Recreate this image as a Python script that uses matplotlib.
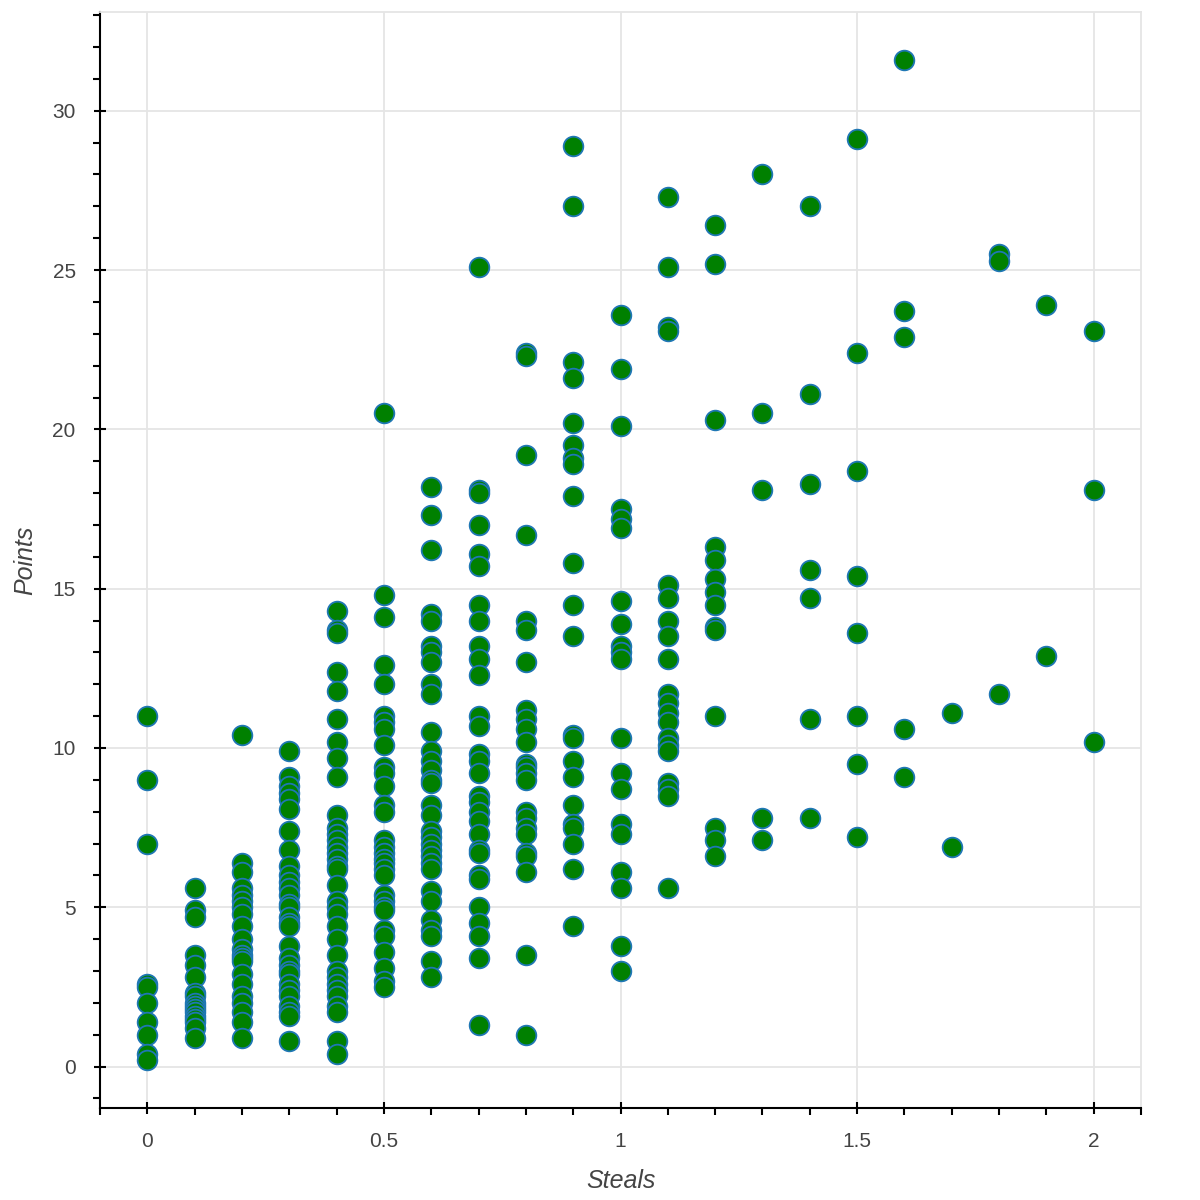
import matplotlib
matplotlib.use("Agg")
import matplotlib.pyplot as plt
from matplotlib.ticker import MultipleLocator, FuncFormatter

plt.rcParams["font.family"] = ["Liberation Sans", "DejaVu Sans"]

# steals per game -> points per game
steals_0_0 = [11.0, 9.0, 7.0, 2.6, 2.5, 2.0, 1.4, 1.0, 0.4, 0.2]
steals_0_1 = [5.6, 4.9, 4.7, 3.5, 3.2, 2.8, 2.3, 2.2, 2.0, 1.9, 1.8, 1.7, 1.6, 1.5, 1.4, 1.2, 0.9]
steals_0_2 = [10.4, 6.4, 6.1, 5.6, 5.4, 5.2, 5.0, 4.8, 4.4, 4.0, 3.7, 3.5, 3.4, 3.3, 2.9, 2.6,
              2.2, 2.0, 1.7, 1.4, 0.9]
steals_0_3 = [9.9, 9.1, 8.8, 8.6, 8.4, 8.1, 7.4, 6.8, 6.3, 6.0, 5.8, 5.6, 5.4, 5.1, 5.0, 4.7,
              4.5, 4.4, 3.8, 3.4, 3.2, 3.0, 2.9, 2.6, 2.4, 2.2, 1.9, 1.7, 1.6, 0.8]
steals_0_4 = [14.3, 13.7, 13.6, 12.4, 11.8, 10.9, 10.2, 9.7, 9.1, 7.9, 7.5, 7.3, 7.1, 6.9, 6.7,
              6.5, 6.3, 6.2, 5.7, 5.2, 5.0, 4.8, 4.4, 4.0, 3.5, 3.0, 2.8, 2.6, 2.4, 2.2, 1.9,
              1.7, 0.8, 0.4]
steals_0_5 = [20.5, 14.8, 14.1, 12.6, 12.0, 11.0, 10.8, 10.6, 10.1, 9.4, 9.2, 8.8, 8.2, 8.0, 7.1,
              6.9, 6.7, 6.5, 6.4, 6.2, 6.0, 5.4, 5.2, 5.0, 4.9, 4.3, 4.1, 3.6, 3.1, 2.7, 2.5]
steals_0_6 = [18.2, 17.3, 16.2, 14.2, 14.0, 13.2, 13.0, 12.7, 12.0, 11.7, 10.5, 9.9, 9.6, 9.3,
              9.0, 8.9, 8.2, 7.9, 7.4, 7.2, 7.0, 6.8, 6.6, 6.4, 6.2, 5.5, 5.2, 4.6, 4.3, 4.1,
              3.3, 2.8]
steals_0_7 = [25.1, 18.1, 18.0, 17.0, 16.1, 15.7, 14.5, 14.0, 13.2, 12.8, 12.3, 11.0, 10.7, 9.8,
              9.6, 9.2, 8.5, 8.3, 8.0, 7.7, 7.3, 6.8, 6.7, 6.0, 5.9, 5.0, 4.5, 4.1, 3.4, 1.3]
steals_0_8 = [22.4, 22.3, 19.2, 16.7, 14.0, 13.7, 12.7, 11.2, 10.9, 10.6, 10.2, 9.5, 9.4, 9.2,
              9.0, 8.0, 7.8, 7.5, 7.3, 6.7, 6.6, 6.1, 3.5, 1.0]
steals_0_9 = [28.9, 27.0, 22.1, 21.6, 20.2, 19.5, 19.1, 18.9, 17.9, 15.8, 14.5, 13.5, 10.4, 10.3,
              9.6, 9.1, 8.2, 7.6, 7.5, 7.0, 6.2, 4.4]
steals_1_0 = [23.6, 21.9, 20.1, 17.5, 17.2, 16.9, 14.6, 13.9, 13.2, 13.0, 12.8, 10.3, 9.2, 8.7,
              7.6, 7.3, 6.1, 5.6, 3.8, 3.0]
steals_1_1 = [27.3, 25.1, 23.2, 23.1, 15.1, 14.7, 14.0, 13.5, 12.8, 11.7, 11.4, 11.1, 10.8, 10.3,
              10.1, 9.9, 8.9, 8.7, 8.5, 5.6]
steals_1_2 = [26.4, 25.2, 20.3, 16.3, 15.9, 15.3, 14.9, 14.5, 13.8, 13.7, 11.0, 7.5, 7.1, 6.6]
steals_1_3 = [28.0, 20.5, 18.1, 7.8, 7.1]
steals_1_4 = [27.0, 21.1, 18.3, 15.6, 14.7, 10.9, 7.8]
steals_1_5 = [29.1, 22.4, 18.7, 15.4, 13.6, 11.0, 9.5, 7.2]
steals_1_6 = [31.6, 23.7, 22.9, 10.6, 9.1]
steals_1_7 = [11.1, 6.9]
steals_1_8 = [25.5, 25.3, 11.7]
steals_1_9 = [23.9, 12.9]
steals_2_0 = [23.1, 18.1, 10.2]

columns = {
    0.0: steals_0_0, 0.1: steals_0_1, 0.2: steals_0_2, 0.3: steals_0_3, 0.4: steals_0_4,
    0.5: steals_0_5, 0.6: steals_0_6, 0.7: steals_0_7, 0.8: steals_0_8, 0.9: steals_0_9,
    1.0: steals_1_0, 1.1: steals_1_1, 1.2: steals_1_2, 1.3: steals_1_3, 1.4: steals_1_4,
    1.5: steals_1_5, 1.6: steals_1_6, 1.7: steals_1_7, 1.8: steals_1_8, 1.9: steals_1_9,
    2.0: steals_2_0,
}

steals = []
points = []
for stl, pts in columns.items():
    steals += [stl] * len(pts)
    points += pts

fig = plt.figure(figsize=(12, 12), dpi=100)
ax = fig.add_axes([100 / 1200, 92 / 1200, 1041 / 1200, 1096 / 1200])

ax.scatter(steals, points, s=200, c="green", edgecolors="#1f77b4", linewidths=1.3, zorder=3)

ax.set_xlim(-0.1, 2.1)
ax.set_ylim(-1.3, 33.1)

ax.xaxis.set_major_locator(MultipleLocator(0.5))
ax.xaxis.set_minor_locator(MultipleLocator(0.1))
ax.yaxis.set_major_locator(MultipleLocator(5))
ax.yaxis.set_minor_locator(MultipleLocator(1))
ax.xaxis.set_major_formatter(FuncFormatter(lambda v, p: f"{v:g}"))
ax.yaxis.set_major_formatter(FuncFormatter(lambda v, p: f"{v:g}"))

ax.grid(True, which="major", color="#e5e5e5", linewidth=1.3, zorder=0)
ax.set_axisbelow(True)

for side in ("top", "right"):
    ax.spines[side].set_color("#e5e5e5")
    ax.spines[side].set_linewidth(1.3)
for side in ("left", "bottom"):
    ax.spines[side].set_color("black")
    ax.spines[side].set_linewidth(1.5)

ax.tick_params(which="major", direction="inout", length=9, width=1.5, color="black",
               labelsize=15, labelcolor="#444444", pad=13)
ax.tick_params(which="minor", direction="out", length=5, width=1.5, color="black")

ax.set_xlabel("Steals", fontsize=18, fontstyle="italic", color="#444444", labelpad=13)
ax.set_ylabel("Points", fontsize=18, fontstyle="italic", color="#444444", labelpad=11)

fig.savefig("out.png", dpi=100)
